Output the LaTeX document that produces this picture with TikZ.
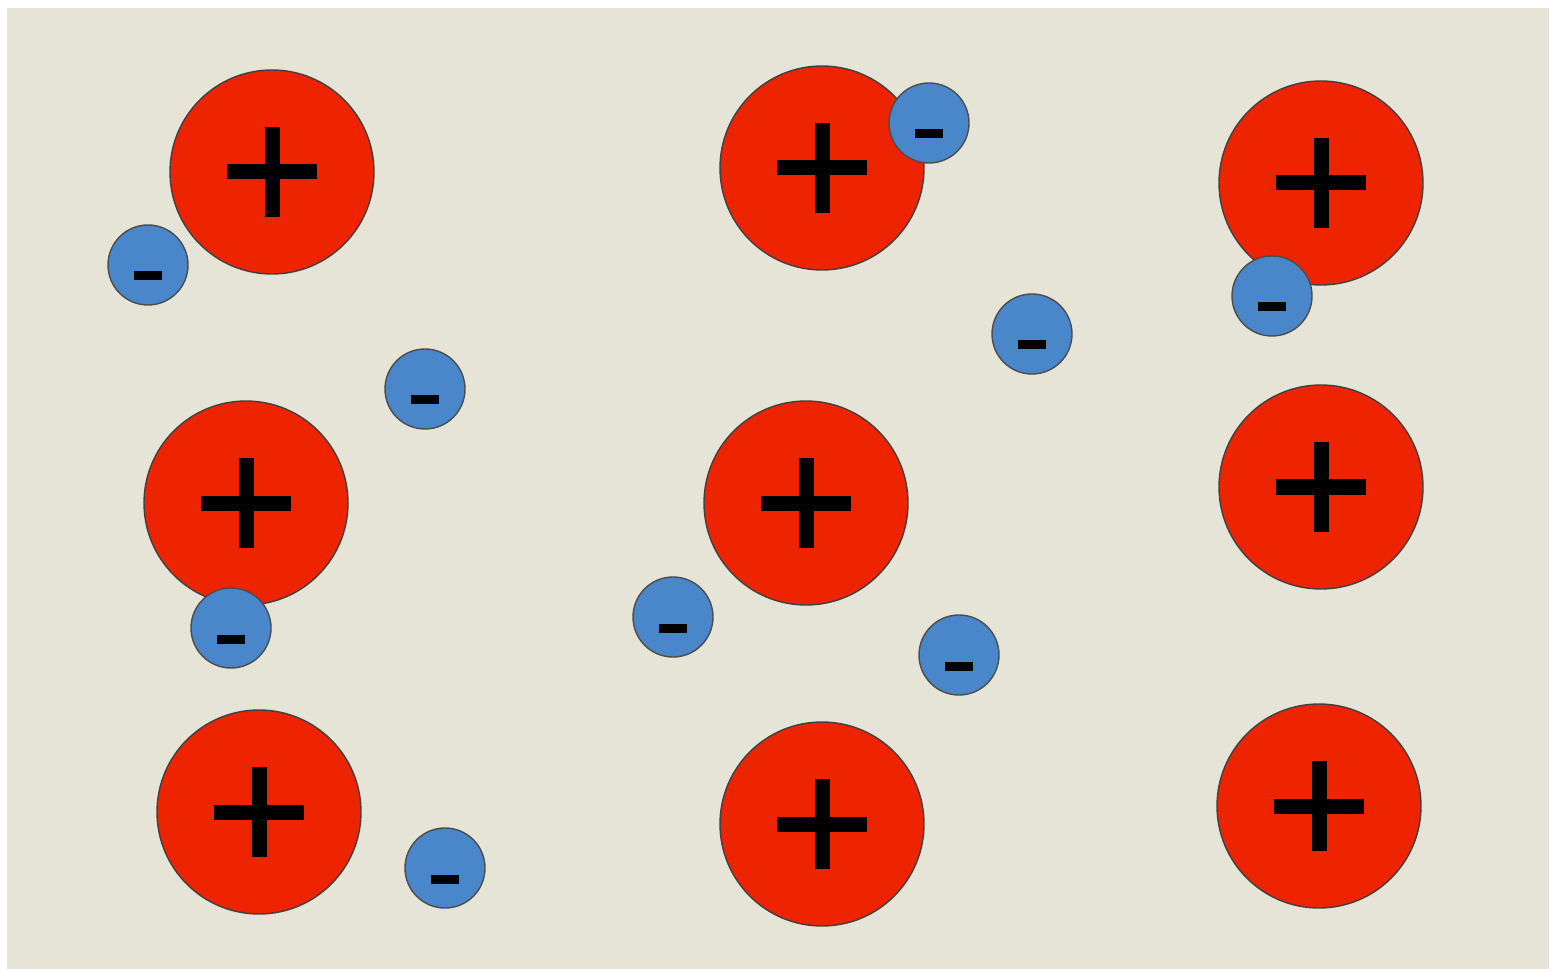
\documentclass[tikz,border=0pt]{standalone}
\usepackage{tikz}
\definecolor{bgcol}{HTML}{E6E4D6}
\definecolor{cationcol}{HTML}{EE2400}
\definecolor{electroncol}{HTML}{4A86CA}
\begin{document}
\begin{tikzpicture}[x=0.5pt,y=-0.5pt,
  cation/.style={circle,draw=black!75,line width=0.7pt,fill=cationcol,
                 inner sep=0pt,minimum size=102pt},
  electron/.style={circle,draw=black!70,line width=0.7pt,fill=electroncol,
                   inner sep=0pt,minimum size=40pt},
  plusbar/.style={black,line width=7.5pt},
  minusbar/.style={black,line width=4.5pt},
]
\useasboundingbox[fill=white] (0,0) rectangle (1551,972);
\fill[bgcol] (7,8) rectangle (1549,969);
% positive ions
\foreach \x/\y/\n in {272/172/1,822/168/2,1321/183/3,
                      246/503/4,806/503/5,1321/487/6,
                      259/812/7,822/824/8,1319/806/9}{
  \node[cation] (p\n) at (\x,\y) {};
  \draw[plusbar] ([shift={(-45,0)}]p\n.center) -- ([shift={(45,0)}]p\n.center);
  \draw[plusbar] ([shift={(0,-45)}]p\n.center) -- ([shift={(0,45)}]p\n.center);
}
% free electrons
\foreach \x/\y/\n in {148/265/1,929/123/2,1272/296/3,
                      1032/334/4,425/389/5,231/628/6,
                      673/617/7,959/655/8,445/868/9}{
  \node[electron] (e\n) at (\x,\y) {};
  \draw[minusbar] ([shift={(-14,11)}]e\n.center) -- ([shift={(14,11)}]e\n.center);
}
\end{tikzpicture}
\end{document}
